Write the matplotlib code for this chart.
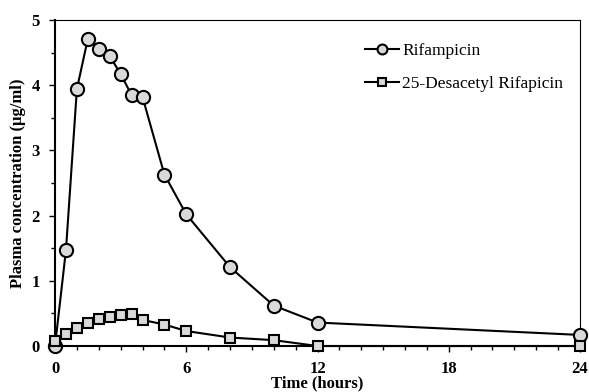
import numpy as np
import matplotlib.pyplot as plt
from matplotlib.ticker import MultipleLocator

# Данные (время в часах, концентрация в мкг/мл)
time_h = [0, 0.5, 1, 1.5, 2, 2.5, 3, 3.5, 4, 5, 6, 8, 10, 12, 24]
rifampicin = [0.0, 1.47, 3.94, 4.71, 4.55, 4.45, 4.17, 3.85, 3.82, 2.63, 2.02, 1.21, 0.62, 0.36, 0.17]
desacetyl = [0.08, 0.18, 0.27, 0.36, 0.41, 0.44, 0.47, 0.49, 0.40, 0.33, 0.23, 0.13, 0.09, 0.0, 0.0]

plt.rcParams['font.family'] = ['Liberation Serif', 'DejaVu Serif']

fig = plt.figure(figsize=(5.89, 3.92), dpi=100)
ax = fig.add_axes([0.0934, 0.1173, 0.8913, 0.8317])

ax.plot(time_h, rifampicin, '-o', color='black', lw=1.5, ms=9.5, mfc='#d9d9d9',
        mec='black', mew=1.5, label='Rifampicin', clip_on=False, zorder=3)
ax.plot(time_h, desacetyl, '-s', color='black', lw=1.5, ms=7.5, mfc='#d9d9d9',
        mec='black', mew=1.5, label='25-Desacetyl Rifapicin', clip_on=False, zorder=3)

ax.set_xlim(0, 24)
ax.set_ylim(0, 5)
ax.xaxis.set_major_locator(MultipleLocator(6))
ax.xaxis.set_minor_locator(MultipleLocator(1))
ax.yaxis.set_major_locator(MultipleLocator(1))
ax.yaxis.set_minor_locator(MultipleLocator(0.5))
ax.tick_params(which='both', direction='out', width=1)
ax.tick_params(which='major', length=4, labelsize=12)
ax.tick_params(which='minor', length=3)
ax.tick_params(axis='x', which='major', pad=6.5)
ax.tick_params(axis='y', which='major', pad=7)
for lbl in ax.get_xticklabels() + ax.get_yticklabels():
    lbl.set_fontweight('bold')

ax.spines['left'].set_linewidth(1.5)
ax.spines['bottom'].set_linewidth(1.5)
ax.spines['top'].set_linewidth(0.8)
ax.spines['right'].set_linewidth(0.8)

ax.set_xlabel('Time (hours)', fontsize=12, fontweight='bold', labelpad=-1)
ax.set_ylabel('Plasma concentration (μg/ml)', fontsize=12, fontweight='bold', labelpad=4)

ax.legend(loc='upper left', bbox_to_anchor=(0.59, 0.93), frameon=False, fontsize=12.5,
          borderpad=0, borderaxespad=0, markerscale=0.75,
          handlelength=1.95, handletextpad=0.2, labelspacing=0.95)

fig.savefig('out.png', dpi=100)
